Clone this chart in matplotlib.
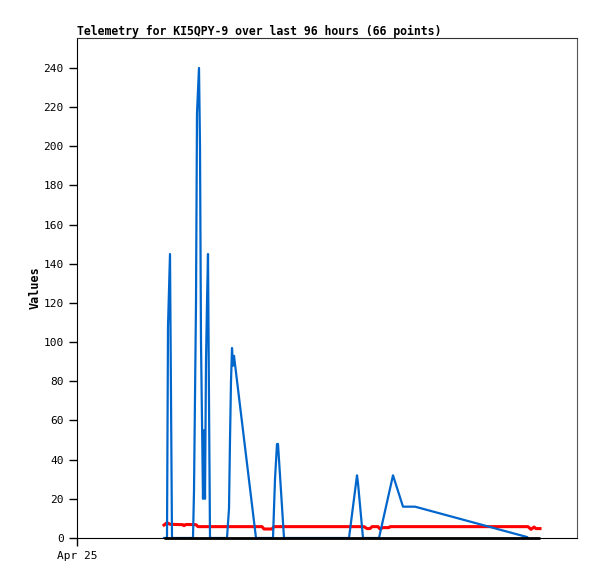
import matplotlib
matplotlib.use("Agg")
import matplotlib.pyplot as plt

# hours since Apr 25 00:00
blue_h = [17.4, 18.0, 18.2, 18.6, 18.8, 19.0,
          23.2, 23.4, 23.6, 23.8, 24.0, 24.4, 24.6, 24.8, 25.0, 25.2, 25.4, 25.6, 25.8, 26.0, 26.2, 26.4, 26.6,
          30.0, 30.4, 30.6, 30.8, 31.0, 31.2, 31.4, 35.8,
          39.2, 39.6, 40.0, 40.2, 40.4, 41.4,
          54.4, 56.0, 56.2, 57.2,
          60.4, 63.2, 65.2, 67.6, 90.0]
blue_v = [0, 0, 108, 145, 72, 0,
          0, 24, 72, 120, 217, 240, 200, 100, 60, 20, 55, 20, 90, 120, 145, 70, 0,
          0, 15, 50, 80, 97, 88, 93, 0,
          0, 30, 48, 48, 40, 0,
          0, 32, 28, 0,
          0, 32, 16, 16, 0.5]

red_h = [17.4, 18.0, 18.6, 21.2, 21.4, 21.8, 23.8, 24.2, 37.0, 37.4, 39.0, 39.4, 57.4, 58.0, 58.6,
         59.0, 60.2, 60.6, 61.2, 62.4, 62.6, 90.2, 90.8, 91.4, 91.8, 92.6]
red_v = [6.6, 7.8, 7.0, 6.8, 6.3, 6.9, 6.8, 5.8, 5.8, 4.6, 4.6, 5.8, 5.8, 4.8, 4.8,
         5.8, 5.8, 4.6, 5.3, 5.3, 5.8, 5.8, 4.4, 5.6, 4.8, 4.8]

black_h = [17.4, 92.6]
black_v = [0, 0]

mono = "DejaVu Sans Mono"

fig = plt.figure(figsize=(5.97, 5.79), dpi=100)
ax = fig.add_axes([77 / 597, 1 - 538 / 579, 500 / 597, 500 / 579])

ax.plot(red_h, red_v, color="#ff0000", lw=2.2, zorder=2)
ax.plot(blue_h, blue_v, color="#0066cc", lw=1.6, zorder=3)
ax.plot(black_h, black_v, color="#000000", lw=2.0, zorder=4, solid_capstyle="butt", clip_on=False)

ax.set_xlim(0, 100)
ax.set_ylim(0, 255.3)
ax.set_yticks(range(0, 241, 20))
ax.set_xticks([0])
ax.set_xticklabels(["Apr 25"])
for lab in ax.get_xticklabels() + ax.get_yticklabels():
    lab.set_family(mono)
    lab.set_fontsize(8)
ax.tick_params(direction="out", length=6, width=1, color="black")

ax.spines["left"].set_color("black")
ax.spines["bottom"].set_color("black")
ax.spines["top"].set_color("#333333")
ax.spines["right"].set_color("#555555")

ax.set_ylabel("Values", family=mono, fontsize=8.5, fontweight="bold", labelpad=1)
ax.set_title("Telemetry for KI5QPY-9 over last 96 hours (66 points)", family=mono,
             fontsize=8.3, fontweight="bold", loc="left", pad=2)

fig.savefig("out.png", dpi=100)
